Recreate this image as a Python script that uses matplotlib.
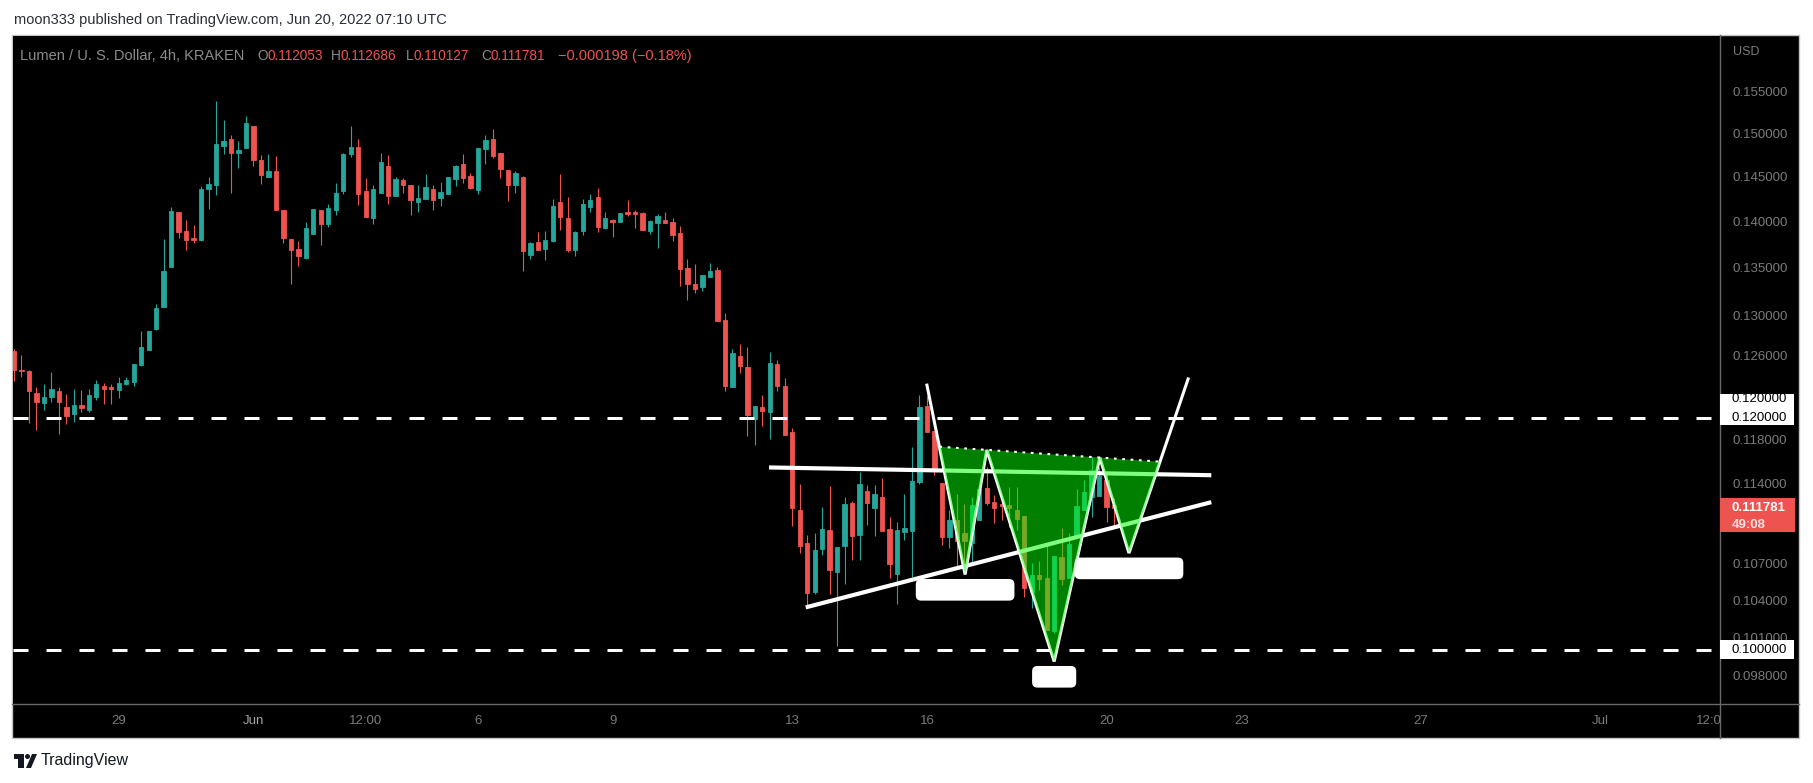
import numpy as np
import matplotlib
matplotlib.use("Agg")
import matplotlib.pyplot as plt
import matplotlib.ticker as mticker
import matplotlib.transforms as mtransforms
from matplotlib.patches import Rectangle, Polygon

plt.rcParams['font.family'] = ['Liberation Sans', 'DejaVu Sans']

# 4h candles, index 0 = 26 May 16:00, index 32 = 1 Jun 00:00, last = 20 Jun 04:00
opens = [0.1264, 0.12456, 0.12446, 0.12233, 0.1214, 0.12198, 0.12252, 0.12099, 0.12036, 0.12118,
         0.12074, 0.12198, 0.12301, 0.12291, 0.12265, 0.12323, 0.12343, 0.12505, 0.12656, 0.12866,
         0.1309, 0.13507, 0.141, 0.13891, 0.13815, 0.13796, 0.1436, 0.14405, 0.14852, 0.1493,
         0.1477, 0.14829, 0.15083, 0.14686, 0.14497, 0.14561, 0.14122, 0.13804, 0.13696, 0.13602,
         0.13861, 0.14122, 0.13971, 0.14125, 0.14337, 0.14755, 0.14837, 0.14334, 0.14037, 0.14315,
         0.14617, 0.14281, 0.14458, 0.14401, 0.14214, 0.14247, 0.14356, 0.14259, 0.14303, 0.14473,
         0.1464, 0.14504, 0.14348, 0.14817, 0.1493, 0.14767, 0.14572, 0.14405, 0.14493, 0.13635,
         0.13771, 0.13699, 0.13785, 0.14211, 0.14033, 0.13688, 0.13894, 0.14159, 0.14267, 0.13924,
         0.14011, 0.1399, 0.141, 0.141, 0.14089, 0.13891, 0.13979, 0.14011, 0.1399, 0.13869,
         0.13493, 0.13325, 0.13293, 0.13398, 0.13472, 0.12954, 0.12291, 0.12594, 0.12485, 0.11986,
         0.12099, 0.12052, 0.12515, 0.12301, 0.11864, 0.11161, 0.10875, 0.10465, 0.10824, 0.10987,
         0.10631, 0.1085, 0.11222, 0.10944, 0.11328, 0.11181, 0.11275, 0.10996, 0.10617, 0.10973,
         0.10981, 0.11411, 0.12109, 0.11874, 0.11399, 0.10929, 0.11073, 0.10961, 0.10877, 0.11073,
         0.11354, 0.11234, 0.11213, 0.11205, 0.11161, 0.11108, 0.10468, 0.10609, 0.10583, 0.10153,
         0.10757, 0.10583, 0.10929, 0.11161, 0.11272, 0.11284, 0.11426, 0.112053]
highs = [0.1266, 0.12603, 0.12456, 0.12291, 0.1232, 0.12437, 0.12291, 0.12224, 0.12272, 0.12262,
         0.12272, 0.12359, 0.1233, 0.1232, 0.12388, 0.12388, 0.12515, 0.12843, 0.12843, 0.13118,
         0.13804, 0.14156, 0.141, 0.14011, 0.13957, 0.1439, 0.14493, 0.15382, 0.15154, 0.14977,
         0.14906, 0.15202, 0.15083, 0.14744, 0.14755, 0.14732, 0.14122, 0.13804, 0.13782, 0.1399,
         0.14133, 0.14122, 0.14189, 0.14424, 0.14767, 0.15083, 0.1493, 0.14481, 0.14401, 0.14767,
         0.14744, 0.14493, 0.14481, 0.14401, 0.14401, 0.14526, 0.14401, 0.14435, 0.14493, 0.14629,
         0.14755, 0.14538, 0.14825, 0.14977, 0.15048, 0.14767, 0.14572, 0.14561, 0.14504, 0.13771,
         0.1388, 0.13891, 0.14244, 0.14526, 0.14267, 0.13891, 0.14244, 0.143, 0.14367, 0.141,
         0.14022, 0.14089, 0.14233, 0.14122, 0.141, 0.14011, 0.14078, 0.141, 0.14033, 0.13946,
         0.13589, 0.13536, 0.13419, 0.13546, 0.13504, 0.13025, 0.12663, 0.12713, 0.12683, 0.12109,
         0.12214, 0.12633, 0.12554, 0.12378, 0.11902, 0.1139, 0.10944, 0.10961, 0.11187, 0.11372,
         0.10841, 0.11275, 0.1124, 0.11498, 0.11381, 0.11381, 0.11444, 0.11099, 0.11057, 0.11301,
         0.11726, 0.12214, 0.12204, 0.11874, 0.11399, 0.11161, 0.11301, 0.11213, 0.11278, 0.11381,
         0.11546, 0.11292, 0.11284, 0.11366, 0.11366, 0.11108, 0.10704, 0.10725, 0.10873, 0.10767,
         0.11006, 0.10963, 0.11346, 0.11426, 0.11631, 0.11546, 0.11487, 0.112686]
lows = [0.1235, 0.12391, 0.11952, 0.11886, 0.12071, 0.1215, 0.11849, 0.11942, 0.11961, 0.12055,
        0.12055, 0.12169, 0.1213, 0.1213, 0.12188, 0.12313, 0.12304, 0.12495, 0.12656, 0.12856,
        0.1309, 0.13507, 0.13818, 0.13688, 0.13764, 0.13785, 0.14136, 0.14292, 0.14759, 0.14315,
        0.14598, 0.14829, 0.1462, 0.14416, 0.14497, 0.14125, 0.13764, 0.13328, 0.13518, 0.13591,
        0.13861, 0.13742, 0.13938, 0.1407, 0.14303, 0.14724, 0.14178, 0.14048, 0.13971, 0.14315,
        0.14192, 0.14281, 0.14315, 0.1407, 0.14103, 0.14247, 0.14125, 0.1417, 0.14303, 0.14394,
        0.14427, 0.1436, 0.14303, 0.14644, 0.14713, 0.14485, 0.14225, 0.14315, 0.13465, 0.13591,
        0.13688, 0.1358, 0.13774, 0.13905, 0.13667, 0.13624, 0.1385, 0.14103, 0.13883, 0.13913,
        0.13826, 0.1399, 0.14055, 0.13924, 0.13902, 0.13858, 0.13707, 0.13979, 0.13782, 0.13304,
        0.13159, 0.13231, 0.13252, 0.13398, 0.12944, 0.12252, 0.12291, 0.12427, 0.11826, 0.11744,
        0.1192, 0.11799, 0.12252, 0.11836, 0.11021, 0.1079, 0.10343, 0.10449, 0.10774, 0.10449,
        0.10031, 0.10531, 0.10731, 0.10731, 0.11033, 0.10938, 0.10981, 0.10583, 0.1037, 0.10904,
        0.10591, 0.11393, 0.11867, 0.11471, 0.1086, 0.10835, 0.10676, 0.10676, 0.10704, 0.11073,
        0.11207, 0.1105, 0.11073, 0.11015, 0.10987, 0.10427, 0.10337, 0.10482, 0.10158, 0.10132,
        0.10523, 0.10583, 0.10929, 0.11161, 0.11102, 0.11284, 0.11059, 0.110127]
closes = [0.1246, 0.12446, 0.12255, 0.1215, 0.12195, 0.12272, 0.1215, 0.12017, 0.12118, 0.12093,
          0.12214, 0.1232, 0.12275, 0.12275, 0.1233, 0.12359, 0.12515, 0.12683, 0.12843, 0.13077,
          0.13461, 0.14111, 0.13883, 0.13796, 0.13796, 0.14356, 0.14413, 0.14872, 0.14906, 0.1477,
          0.14802, 0.15118, 0.14689, 0.14518, 0.14561, 0.14125, 0.13818, 0.13688, 0.13624, 0.13924,
          0.14133, 0.13971, 0.14144, 0.14311, 0.14755, 0.14837, 0.14303, 0.14048, 0.14356, 0.14663,
          0.14281, 0.1447, 0.14405, 0.14236, 0.14255, 0.14379, 0.14236, 0.14322, 0.14493, 0.14617,
          0.14485, 0.14371, 0.14825, 0.14918, 0.14736, 0.14587, 0.14405, 0.14538, 0.13677, 0.1376,
          0.13688, 0.13793, 0.14167, 0.14048, 0.13688, 0.1388, 0.14189, 0.14233, 0.13938, 0.14033,
          0.1399, 0.14089, 0.14078, 0.14081, 0.13902, 0.14, 0.14055, 0.13979, 0.13847, 0.13483,
          0.13325, 0.13272, 0.13419, 0.13461, 0.12944, 0.12301, 0.12623, 0.12495, 0.12024, 0.12109,
          0.12062, 0.12525, 0.12301, 0.11836, 0.11178, 0.1085, 0.10457, 0.10816, 0.10996, 0.10648,
          0.10841, 0.11213, 0.10936, 0.1139, 0.11225, 0.11301, 0.10981, 0.107, 0.10987, 0.11004,
          0.11417, 0.12099, 0.11867, 0.11516, 0.10929, 0.11073, 0.10894, 0.10894, 0.11205, 0.11346,
          0.11225, 0.11181, 0.11198, 0.11181, 0.11084, 0.10499, 0.10609, 0.10573, 0.10158, 0.10767,
          0.10573, 0.1087, 0.11198, 0.11322, 0.11516, 0.11462, 0.1119, 0.111781]

time_ticks = [14, 32, 47, 62, 80, 104, 122, 146, 164, 188, 212, 227]
time_labels = ['29', 'Jun', '12:00', '6', '9', '13', '16', '20', '23', '27', 'Jul', '12:00']
price_ticks = [0.155, 0.150, 0.145, 0.140, 0.135, 0.130, 0.126, 0.118, 0.114, 0.107, 0.104, 0.101, 0.098]
levels = [0.120, 0.100]

# drawings: (candle index, price)
upper_line_x = [100.9, 160.0]
upper_line_y = [0.1154, 0.1147]
lower_line_x = [105.8, 160.0]
lower_line_y = [0.1034, 0.1123]
hs_x = [122.0, 127.1, 130.0, 139.0, 145.1, 149.0, 156.9]
hs_y = [0.1231, 0.1061, 0.1170, 0.0991, 0.1163, 0.1079, 0.1237]
hs_labels = ['Left Shoulder', 'Head', 'Right Shoulder']

last_price = 0.111781
header = 'moon333 published on TradingView.com, Jun 20, 2022 07:10 UTC'
symbol = 'Lumen / U. S. Dollar, 4h, KRAKEN'
ohlc_keys = ['O', 'H', 'L', 'C']
ohlc_vals = ['0.112053', '0.112686', '0.110127', '0.111781']
change = '\u22120.000198 (\u22120.18%)'

W, H = 1813, 783
GREEN = '#26a69a'
RED = '#ef5350'
AXGREY = '#7b7b7b'
ident = mtransforms.IdentityTransform()

fig = plt.figure(figsize=(W / 100, H / 100), dpi=100, facecolor='white')

# chart background
fig.add_artist(Rectangle((12, H - 738), 1787, 703, facecolor='black', edgecolor='#c4c4c4',
                         lw=1, transform=ident, zorder=-1))

ax = fig.add_axes([13 / W, 79 / H, 1707 / W, 668 / H])
ax.set_facecolor('black')
for s in ax.spines.values():
    s.set_visible(False)
ax.set_yscale('log')
ax.set_xlim(-0.134, 227.98)
ax.set_ylim(0.09585, 0.1619)
ax.set_xticks([])
ax.set_yticks(price_ticks)
ax.set_yticklabels([f'{v:.6f}' for v in price_ticks])
ax.yaxis.set_minor_locator(mticker.NullLocator())
ax.yaxis.tick_right()
ax.tick_params(axis='y', which='both', length=0, pad=9, labelcolor=AXGREY, labelsize=9.5)

# candles
o = np.array(opens)
c = np.array(closes)
idx = np.arange(len(o))
cols = np.where(c >= o, GREEN, RED)
ax.vlines(idx, lows, highs, colors=cols, lw=0.8, zorder=2)
ax.bar(idx, np.abs(c - o), bottom=np.minimum(o, c), width=0.58, color=cols,
       edgecolor=cols, linewidth=0.6, zorder=2.1)

# horizontal levels
for lv in levels:
    ax.axhline(lv, color='white', lw=2.16, linestyle=(0, (5, 6)), zorder=3)

# trend lines
ax.plot(upper_line_x, upper_line_y, color='white', lw=3.0, solid_capstyle='butt', zorder=3.5)
ax.plot(lower_line_x, lower_line_y, color='white', lw=3.0, solid_capstyle='butt', zorder=3.5)


# inverse head and shoulders
def crossing(a, b, p, q):
    # intersection of lines a-b and p-q, worked out in (index, log price) space
    x1, y1, x2, y2 = a[0], np.log(a[1]), b[0], np.log(b[1])
    x3, y3, x4, y4 = p[0], np.log(p[1]), q[0], np.log(q[1])
    d = (x1 - x2) * (y3 - y4) - (y1 - y2) * (x3 - x4)
    t = ((x1 - x3) * (y3 - y4) - (y1 - y3) * (x3 - x4)) / d
    return x1 + t * (x2 - x1), np.exp(y1 + t * (y2 - y1))


pts = list(zip(hs_x, hs_y))
left_x, left_y = crossing(pts[0], pts[1], pts[2], pts[4])
right_x, right_y = crossing(pts[5], pts[6], pts[2], pts[4])

ax.plot(hs_x, hs_y, color='white', lw=2.2, solid_joinstyle='miter', zorder=4)
fill_pts = [(left_x, left_y)] + pts[1:6] + [(right_x, right_y)]
ax.add_patch(Polygon(fill_pts, closed=True, facecolor=(0, 1, 0, 0.5), edgecolor='none', zorder=5))
ax.plot([left_x, right_x], [left_y, right_y], color='white', lw=1.5,
        linestyle=(0, (1.3, 2.7)), zorder=6)

for i, lab in enumerate(hs_labels):
    j = 1 + 2 * i
    ax.annotate(lab, xy=(hs_x[j], hs_y[j]), xytext=(0, -11), textcoords='offset points',
                ha='center', va='center', fontsize=11, color='white', zorder=8,
                bbox=dict(boxstyle='round,pad=0.25,rounding_size=0.35', fc='white', ec='none'))

# separators of the price and time scales
fig.add_artist(plt.Line2D([1720, 1720], [H - 738, H - 35], color='#6a6a6a', lw=1, transform=ident))
fig.add_artist(plt.Line2D([12, 1799], [H - 704, H - 704], color='#6a6a6a', lw=1, transform=ident))

# time axis labels
axt = fig.add_axes([13 / W, 45 / H, 1707 / W, 34 / H])
axt.set_xlim(ax.get_xlim())
axt.set_ylim(0, 1)
axt.axis('off')
for t, lab in zip(time_ticks, time_labels):
    axt.text(t, 0.5, lab, ha='center', va='center', fontsize=9.5, clip_on=True,
             color='#a6a6a6' if lab == 'Jun' else AXGREY)

# price scale boxes
fig.canvas.draw()
renderer = fig.canvas.get_renderer()


def ypix(price):
    return ax.transData.transform((0, price))[1]


fig.text(1733 / W, 1 - 52 / H, 'USD', fontsize=9, color=AXGREY, va='center')

y12 = ypix(levels[0])
fig.add_artist(Rectangle((1720, y12 - 7.5), 74, 31, facecolor='white', edgecolor='none',
                         transform=ident, zorder=5))
for dy in (0, 19):
    fig.text(1732 / W, (y12 + dy) / H, f'{levels[0]:.6f}', fontsize=9.5, color='black',
             va='center', zorder=6)
y10 = ypix(levels[1])
fig.add_artist(Rectangle((1720, y10 - 9.5), 74, 19, facecolor='white', edgecolor='none',
                         transform=ident, zorder=5))
fig.text(1732 / W, y10 / H, f'{levels[1]:.6f}', fontsize=9.5, color='black', va='center', zorder=6)

yl = ypix(last_price)
fig.add_artist(Rectangle((1720, yl - 24), 75, 34, facecolor=RED, edgecolor='none',
                         transform=ident, zorder=5))
fig.text(1732 / W, yl / H, f'{last_price:.6f}', fontsize=9.5, color='white', fontweight='bold',
         va='center', zorder=6)
fig.text(1732 / W, (yl - 17) / H, '49:08', fontsize=9.5, color='#fde3e3', fontweight='bold',
         va='center', zorder=6)

# header and legend line
fig.text(14 / W, 1 - 20 / H, header, fontsize=10.5, color='#2a2e39', va='center')

LEG_Y = 1 - 56 / H
fig.text(20 / W, LEG_Y, symbol, fontsize=10.5, color='#8c8c8c', va='center')
group_x = [257, 331, 406, 481]
for gx, k, v in zip(group_x, ohlc_keys, ohlc_vals):
    tk = fig.text(gx / W, LEG_Y, k, fontsize=9.8, color='#8c8c8c', va='center')
    kx = gx + tk.get_window_extent(renderer).width
    fig.text(kx / W, LEG_Y, v, fontsize=9.8, color=RED, va='center')
fig.text(558 / W, LEG_Y, change, fontsize=10.5, color=RED, va='center')

# TradingView mark at the bottom
fig.add_artist(Rectangle((14, H - 759), 10, 5, facecolor='#131722', transform=ident))
fig.add_artist(Rectangle((18, H - 768), 6, 14, facecolor='#131722', transform=ident))
fig.add_artist(plt.Circle((27.5, H - 756.5), 2.5, facecolor='#131722', transform=ident))
fig.add_artist(Polygon([(26, H - 768), (31, H - 768), (37, H - 754), (32, H - 754)],
                       facecolor='#131722', transform=ident))
fig.text(41 / W, 1 - 761 / H, 'TradingView', fontsize=11.5, color='#131722', va='center')

fig.savefig('out.png', dpi=100, facecolor='white')
